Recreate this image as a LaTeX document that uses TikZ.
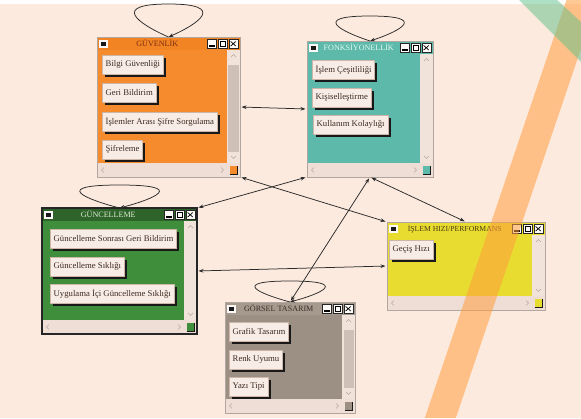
\documentclass[tikz,border=0pt]{standalone}
\usepackage{fontspec}
\setmainfont{Liberation Serif}
\usetikzlibrary{arrows.meta,shadows}

\definecolor{paper}{HTML}{FDEADE}
\definecolor{winbg}{HTML}{EEDED5}
\definecolor{track}{HTML}{F2E3DA}
\definecolor{thumb}{HTML}{CEBFB7}
\definecolor{arrowgray}{HTML}{B5AAA3}
\definecolor{btnface}{HTML}{F8EDE6}
\definecolor{btnrim}{HTML}{CDB5A7}
\definecolor{btntext}{HTML}{3B2A22}
\definecolor{secOrange}{HTML}{F58B2C}
\definecolor{secOrangeBar}{HTML}{F28424}
\definecolor{secOrangeText}{HTML}{7A2C10}
\definecolor{secTeal}{HTML}{5DBAAA}
\definecolor{secTealText}{HTML}{E8F6F2}
\definecolor{secGreen}{HTML}{3E8E3B}
\definecolor{secGreenBar}{HTML}{2E6329}
\definecolor{secGreenText}{HTML}{E0EED8}
\definecolor{secYellow}{HTML}{E9DC30}
\definecolor{secYellowText}{HTML}{4A3C12}
\definecolor{secTaupe}{HTML}{9C9084}
\definecolor{secTaupeBar}{HTML}{A69A8E}
\definecolor{secTaupeText}{HTML}{3A2E28}
\definecolor{linkgray}{HTML}{2A2A2A}
\definecolor{bandOrange}{HTML}{FF9E40}
\definecolor{bandGreen}{HTML}{5CC08A}

\tikzset{
  winframe/.style={fill=winbg, inner sep=0pt, outer sep=0pt},
  winborder/.style={draw=winbg!75!black, line width=.4pt},
  wintitle/.style={font=\fontsize{8.1}{9}\selectfont, inner sep=0pt, anchor=base},
  capbtn/.style={fill=white!70!btnface, draw=black!85, line width=.6pt},
  btn/.style={draw=btnrim, line width=.8pt, fill=btnface, text=btntext,
    font=\fontsize{8.7}{10}\selectfont, inner xsep=3.3pt, inner ysep=0pt,
    minimum height=18.5pt, anchor=north west,
    general shadow={fill=black!90, shadow xshift=2.6pt, shadow yshift=-2.6pt}},
  link/.style={draw=linkgray, line width=.75pt,
    {Stealth[length=5pt,width=3.6pt]}-{Stealth[length=5pt,width=3.6pt]},
    shorten <=1.5pt, shorten >=1.5pt},
  loopline/.style={draw=linkgray, line width=.75pt, -{Stealth[length=5pt,width=3.6pt]}},
  scrollmark/.style={draw=arrowgray, line width=.6pt},
}

% #1 name, #2 left, #3 top, #4 width, #5 height,
% #6 body colour, #7 title bar colour, #8 title text colour, #9 title
\newcommand\appwin[9]{%
  \node[winframe, minimum width=#4pt, minimum height=#5pt, anchor=north west] (#1) at (#2,#3) {};
  \fill[#6] (#2,{#3+13}) rectangle ({#2+#4-13},{#3+#5-14});
  \fill[track] ({#2+#4-13},{#3+13}) rectangle ({#2+#4},{#3+#5-14});
  \fill[#7] (#2,#3) rectangle ({#2+#4},{#3+13});
  % system menu box
  \fill[white!80!winbg] ({#2+2},{#3+2.5}) rectangle ({#2+10.5},{#3+10.5});
  \fill[black!90] ({#2+4},{#3+4.5}) rectangle ({#2+8.5},{#3+8.5});
  % caption buttons
  \foreach \ci in {0,1,2}{\draw[capbtn] ({#2+#4-33+11*\ci},{#3+2}) rectangle ({#2+#4-23.5+11*\ci},{#3+11.2});}
  \draw[black, line width=1.3pt] ({#2+#4-31},{#3+9}) -- ({#2+#4-25.5},{#3+9});
  \draw[black, line width=.6pt] ({#2+#4-20},{#3+4.2}) rectangle ({#2+#4-14.5},{#3+9.5});
  \draw[black, line width=1.1pt] ({#2+#4-20},{#3+4.5}) -- ({#2+#4-14.5},{#3+4.5});
  \draw[black, line width=.7pt] ({#2+#4-9.3},{#3+4.5}) -- ({#2+#4-4.3},{#3+9})
    ({#2+#4-9.3},{#3+9}) -- ({#2+#4-4.3},{#3+4.5});
  % caption
  \node[wintitle, text=#8] (#1-title) at ({#2+(10.5+#4-33)/2},{#3+9.8}) {#9};
  % scroll arrows
  \draw[scrollmark] ({#2+#4-9},{#3+20}) -- ({#2+#4-6.5},{#3+17.5}) -- ({#2+#4-4},{#3+20});
  \draw[scrollmark] ({#2+#4-9},{#3+#5-21}) -- ({#2+#4-6.5},{#3+#5-18.5}) -- ({#2+#4-4},{#3+#5-21});
  \draw[scrollmark] ({#2+7},{#3+#5-9.5}) -- ({#2+4.5},{#3+#5-7}) -- ({#2+7},{#3+#5-4.5});
  \draw[scrollmark] ({#2+#4-19},{#3+#5-9.5}) -- ({#2+#4-16.5},{#3+#5-7}) -- ({#2+#4-19},{#3+#5-4.5});
  % size grip
  \fill[#6] ({#2+#4-10.5},{#3+#5-11}) rectangle ({#2+#4-3},{#3+#5-3.5});
  \draw[black!90, line width=1.2pt] ({#2+#4-10.5},{#3+#5-2.9}) -- ({#2+#4-2.4},{#3+#5-2.9}) -- ({#2+#4-2.4},{#3+#5-11});
  \draw[winborder] (#1.north west) rectangle (#1.south east);
}

% teardrop loop over a window: #1 node, #2 height, #3 half width
\newcommand\selfloop[3]{%
  \draw[loopline] (#1.north) .. controls +({-0.9*#3},{-0.4*#2}) and +({-1.75*#3},0) .. ++(0,{-#2})
    .. controls +({1.75*#3},0) and +({0.9*#3},{-0.4*#2}) .. (#1.north);
}

\begin{document}
\begin{tikzpicture}[x=1pt,y=-1pt]
\useasboundingbox (0,0) rectangle (581,418);
\fill[paper] (0,0) rectangle (581,418);
\fill[white] (0,0) rectangle (581,4);

% windows
\appwin{w1}{97}{37}{143}{140}{secOrange}{secOrangeBar}{secOrangeText}{GÜVENLİK}
\fill[thumb] (228,65) rectangle (239,152);
\appwin{w2}{307}{41}{126}{136}{secTeal}{secTeal}{secTealText}{FONKSİYONELLİK}
\appwin{w3}{42}{208}{155}{126}{secGreen}{secGreenBar}{secGreenText}{GÜNCELLEME}
\draw[black!85, line width=1.6pt] (w3.north west) rectangle (w3.south east);
\appwin{w4}{387}{222}{158}{88}{secYellow}{secYellow}{secYellowText}{\fontsize{7.7}{9}\selectfont İŞLEM HIZI/PERFORMANS}
\appwin{w5}{225}{302}{130}{111}{secTaupe}{secTaupeBar}{secTaupeText}{GÖRSEL TASARIM}
\fill[thumb] (344,330) rectangle (354,388);

% buttons
\node[btn] (g1) at (102,55) {Bilgi Güvenliği};
\node[btn] (g2) at (102,83) {Geri Bildirim};
\node[btn] (g3) at (102,112) {İşlemler Arası Şifre Sorgulama};
\node[btn] (g4) at (102,140) {Şifreleme};

\node[btn] (f1) at (312,60) {İşlem Çeşitliliği};
\node[btn] (f2) at (312,88) {Kişiselleştirme};
\node[btn] (f3) at (313,115) {Kullanım Kolaylığı};

\node[btn] (u1) at (50,229) {Güncelleme Sonrası Geri Bildirim};
\node[btn] (u2) at (50,257) {Güncelleme Sıklığı};
\node[btn] (u3) at (50,284) {Uygulama İçi Güncelleme Sıklığı};

\node[btn] (p1) at (389,240) {Geçiş Hızı};

\node[btn] (t1) at (229,322) {Grafik Tasarım};
\node[btn] (t2) at (229,350) {Renk Uyumu};
\node[btn] (t3) at (229,377) {Yazı Tipi};

% relations
\draw[link] (w1.east) -- (w2.west);
\draw[link] (w1.south east) -- (w4.north west);
\draw[link] (w3.north east) -- (w2.south west);
\draw[link] (w2.south) -- (w5.north);
\draw[link] (w2.south) -- (w4.north);
\draw[link] (w3.east) -- (w4.west);

\selfloop{w1}{33}{33.5}
\selfloop{w2}{25}{33.5}
\selfloop{w3}{23}{39}
\selfloop{w5}{21}{34.5}

% decorative bands
\fill[bandOrange, opacity=.55] (566.5,0) -- (597.5,0) -- (455.8,418) -- (424.8,418) -- cycle;
\fill[bandGreen, opacity=.5] (519,0) -- (557,0) -- (581,22) -- (581,62) -- cycle;
\end{tikzpicture}
\end{document}
